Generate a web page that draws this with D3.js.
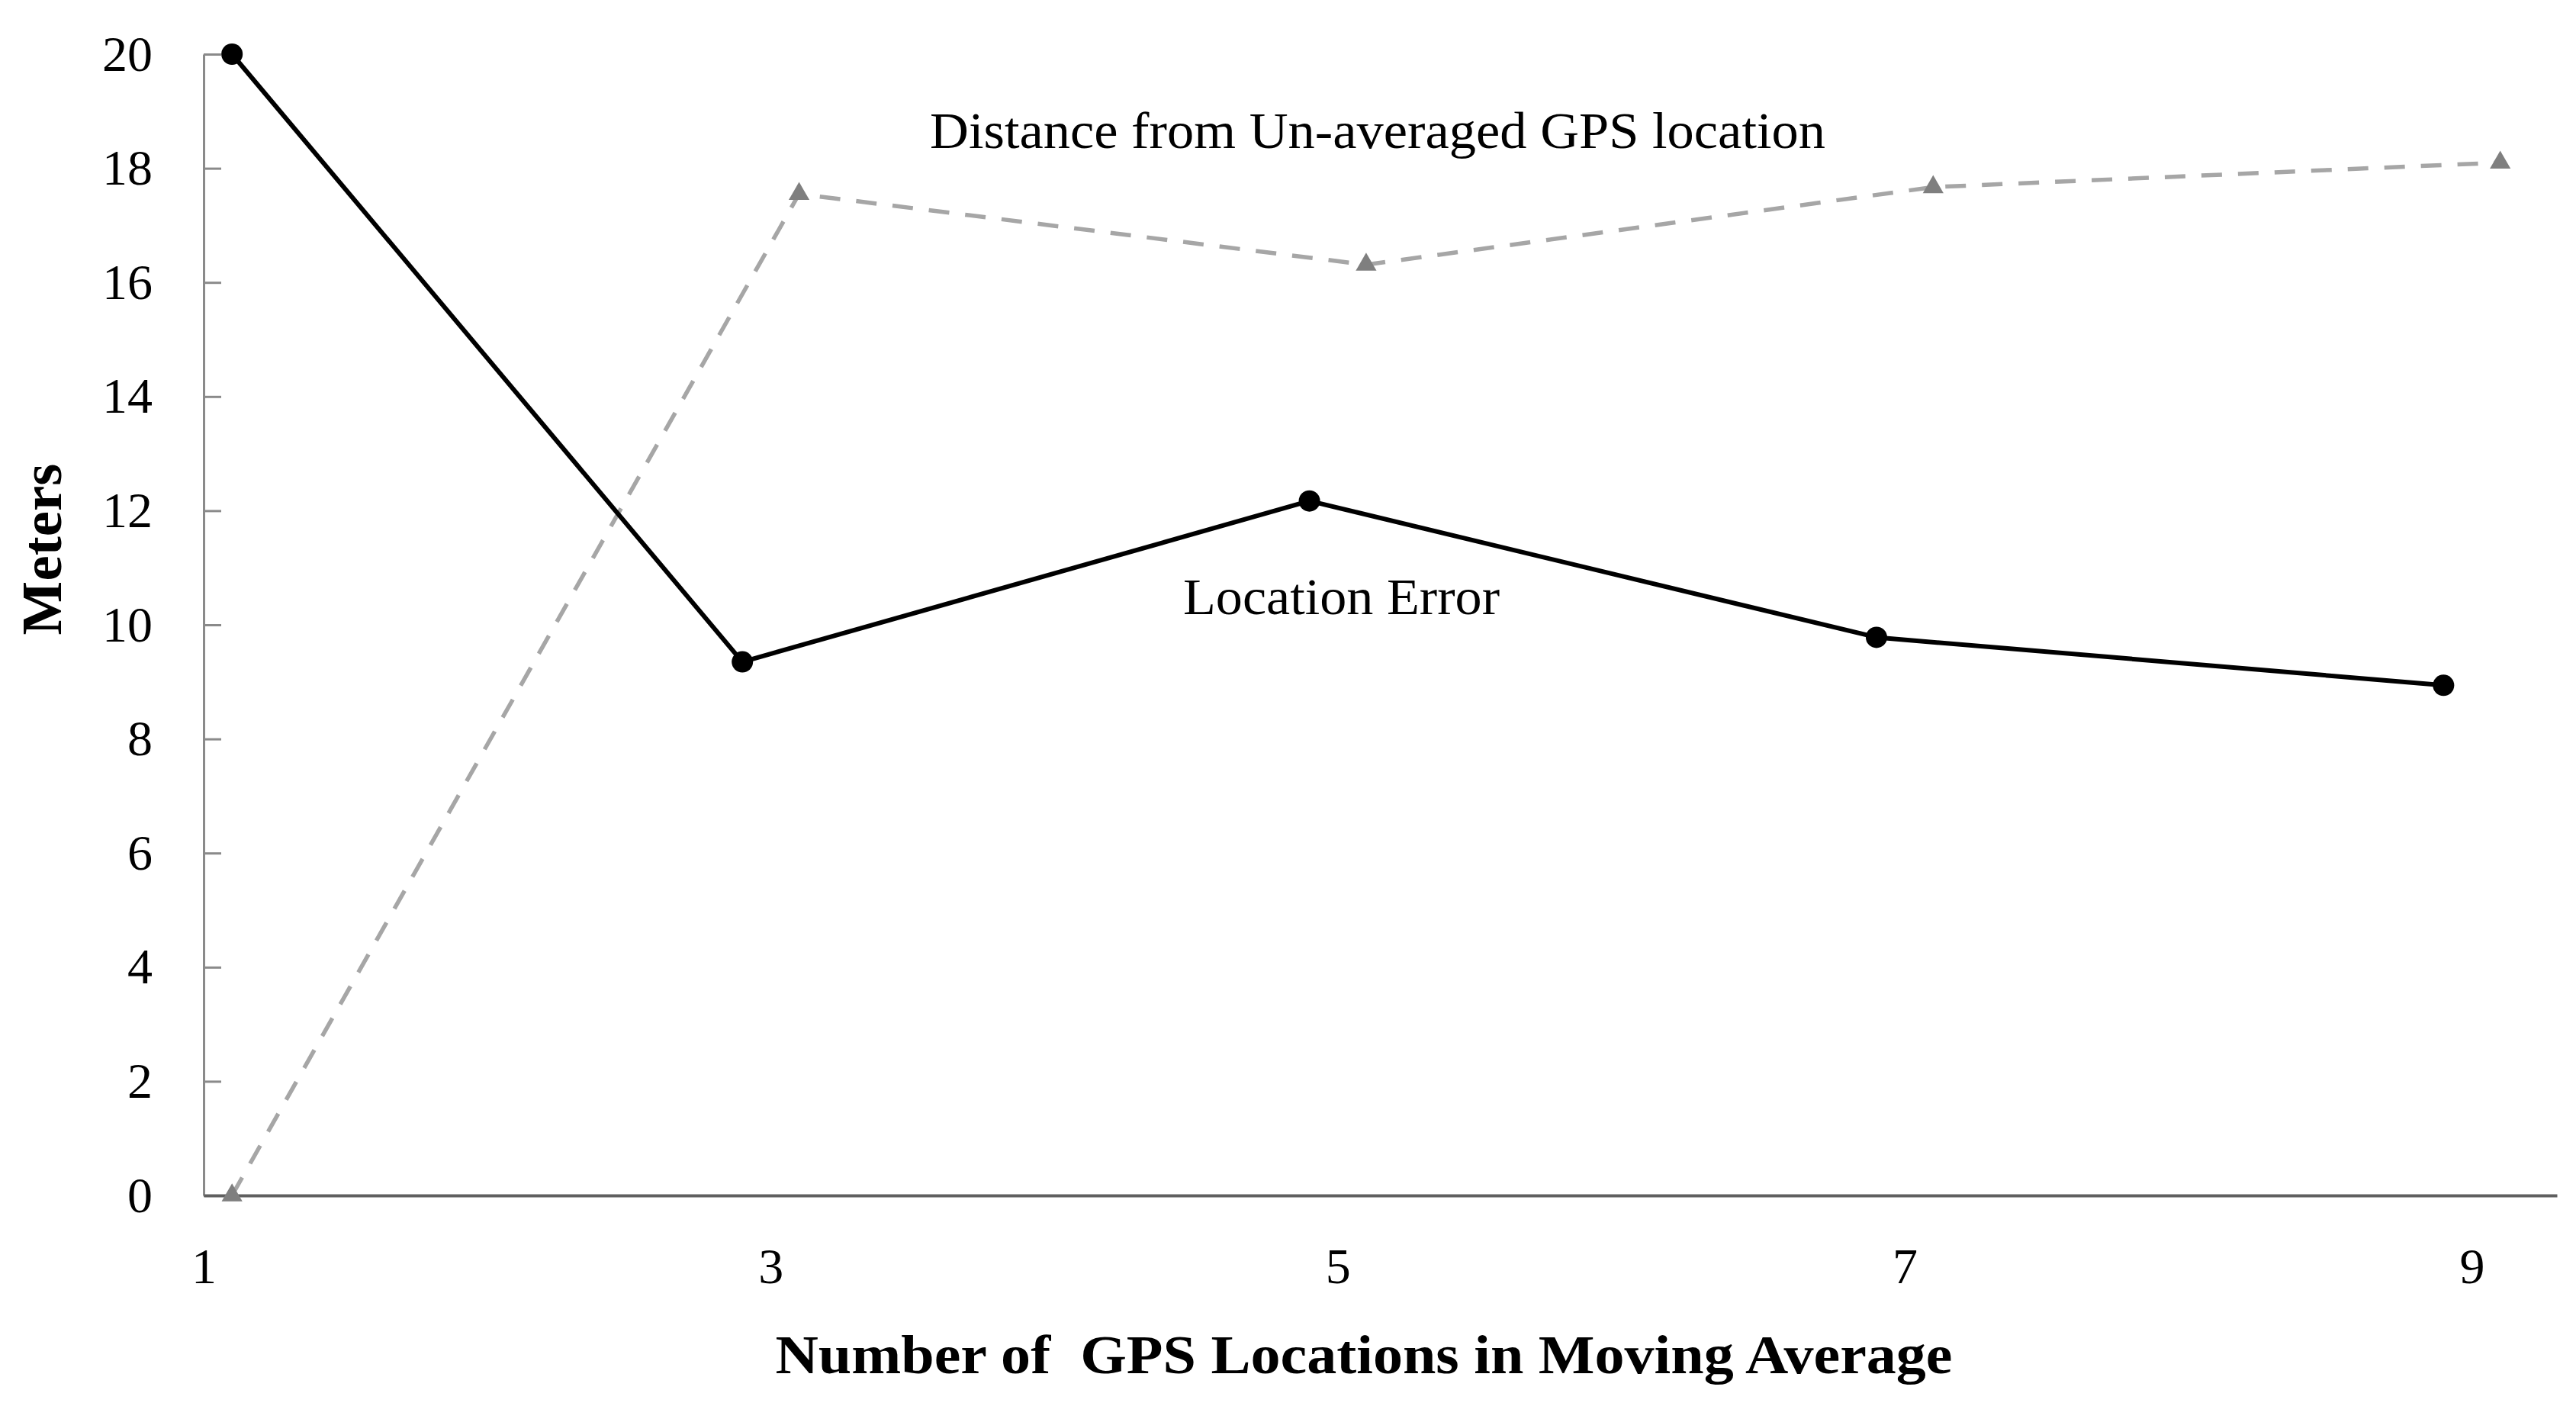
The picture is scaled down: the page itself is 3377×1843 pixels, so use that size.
<!DOCTYPE html>
<html>
<head>
<meta charset="utf-8">
<script src="https://cdn.jsdelivr.net/npm/d3@7"></script>
<style>
  html, body { margin: 0; padding: 0; background: #ffffff; }
  svg { display: block; }
</style>
</head>
<body>
<script>
// ---- Data ----
const errorX = [1.1, 2.9, 4.9, 6.9, 8.9];
const errorY = [20.0, 9.35, 12.17, 9.78, 8.94];
const distX = [1.1, 3.1, 5.1, 7.1, 9.1];
const distY = [0.0, 17.55, 16.31, 17.67, 18.1];
const xTicks = [1, 3, 5, 7, 9];
const yTicks = [0, 2, 4, 6, 8, 10, 12, 14, 16, 18, 20];
const errorLabel = "Location Error";
const distLabel = "Distance from Un-averaged GPS location";
const xTitle = "Number of  GPS Locations in Moving Average";
const yTitle = "Meters";

// ---- Layout ----
const W = 3377, H = 1843;
const FONT = "'Liberation Serif', 'Times New Roman', serif";

const svg = d3.select("body").append("svg")
  .attr("width", W).attr("height", H)
  .attr("xmlns", "http://www.w3.org/2000/svg");
svg.append("rect").attr("width", W).attr("height", H).attr("fill", "#ffffff");

const x = d3.scaleLinear().domain([1, 9.3]).range([267, 3352]);
const y = d3.scaleLinear().domain([0, 20]).range([1567, 71]);

// Y axis (ticks pointing inward)
const yAxis = svg.append("g")
  .attr("transform", `translate(${x(1)},0)`)
  .call(d3.axisLeft(y).tickValues(yTicks).tickSizeInner(-23).tickSizeOuter(0).tickPadding(67).tickFormat(d3.format("d")));
yAxis.select(".domain").attr("stroke", "#8a8a8a").attr("stroke-width", 3);
yAxis.selectAll(".tick line").attr("stroke", "#8a8a8a").attr("stroke-width", 3);
yAxis.selectAll(".tick text")
  .attr("font-family", FONT).attr("font-size", 66).attr("fill", "#000");
yAxis.attr("font-family", null).attr("font-size", null);

// X axis (no ticks)
const xAxis = svg.append("g")
  .attr("transform", `translate(0,${y(0)})`)
  .call(d3.axisBottom(x).tickValues(xTicks).tickSize(0).tickPadding(68).tickFormat(d3.format("d")));
xAxis.select(".domain").attr("stroke", "#5f5f5f").attr("stroke-width", 4);
xAxis.selectAll(".tick text")
  .attr("font-family", FONT).attr("font-size", 66).attr("fill", "#000");
xAxis.attr("font-family", null).attr("font-size", null);

// Distance series (gray dashed with triangles)
const distData = distX.map((v, i) => ({ x: v, y: distY[i] }));
const errData = errorX.map((v, i) => ({ x: v, y: errorY[i] }));
const line = d3.line().x(d => x(d.x)).y(d => y(d.y));

svg.append("path").datum(distData)
  .attr("d", line)
  .attr("fill", "none")
  .attr("stroke", "#a6a6a6")
  .attr("stroke-width", 5.5)
  .attr("stroke-dasharray", "27,21");

svg.append("g").selectAll("path")
  .data(distData).join("path")
  .attr("transform", d => `translate(${x(d.x)},${y(d.y)})`)
  .attr("d", d3.symbol().type(d3.symbolTriangle).size(320))
  .attr("fill", "#7f7f7f");

// Location error series (black solid with circles)
svg.append("path").datum(errData)
  .attr("d", line)
  .attr("fill", "none")
  .attr("stroke", "#000")
  .attr("stroke-width", 6)
  .attr("stroke-linejoin", "round");

svg.append("g").selectAll("circle")
  .data(errData).join("circle")
  .attr("cx", d => x(d.x)).attr("cy", d => y(d.y))
  .attr("r", 14).attr("fill", "#000");

// Series labels
svg.append("text")
  .attr("x", 1219).attr("y", 194)
  .attr("font-family", FONT).attr("font-size", 68)
  .attr("textLength", 1174).attr("lengthAdjust", "spacingAndGlyphs")
  .attr("fill", "#000")
  .text(distLabel);

svg.append("text")
  .attr("x", 1551).attr("y", 805)
  .attr("font-family", FONT).attr("font-size", 68)
  .attr("textLength", 415).attr("lengthAdjust", "spacingAndGlyphs")
  .attr("fill", "#000")
  .text(errorLabel);

// Axis titles
svg.append("text")
  .attr("x", 1788).attr("y", 1800)
  .attr("text-anchor", "middle")
  .style("white-space", "pre")
  .attr("font-family", FONT).attr("font-size", 72).attr("font-weight", "bold")
  .attr("textLength", 1543).attr("lengthAdjust", "spacingAndGlyphs")
  .attr("fill", "#000")
  .text(xTitle);

svg.append("text")
  .attr("transform", "translate(80,720) rotate(-90)")
  .attr("text-anchor", "middle")
  .attr("font-family", FONT).attr("font-size", 75).attr("font-weight", "bold")
  .attr("fill", "#000")
  .text(yTitle);
</script>
</body>
</html>
